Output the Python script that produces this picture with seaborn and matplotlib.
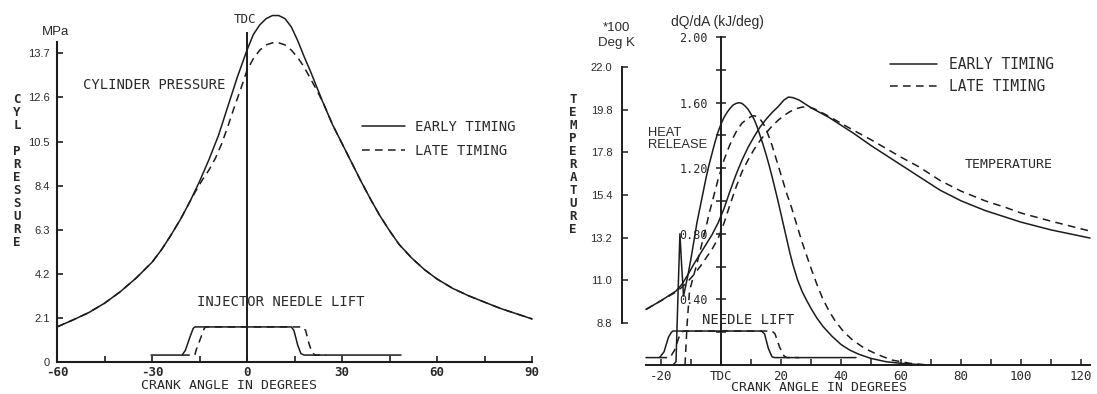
import numpy as np
import pandas as pd
import matplotlib
matplotlib.use("Agg")
import matplotlib.pyplot as plt
import seaborn as sns

# ---------------- left panel: cylinder pressure, MPa ----------------
p_early_ca = [-60, -55, -50, -45, -40, -35, -30, -27, -24, -21, -18, -15, -12, -9, -6, -3, 0,
              2, 4, 6, 8, 10, 12, 14, 16, 18, 20, 22, 24, 27, 30, 33, 36, 39, 42, 45, 48,
              52, 56, 60, 65, 70, 75, 80, 85, 90]
p_early = [1.67, 2.0, 2.35, 2.8, 3.35, 4.0, 4.75, 5.35, 6.05, 6.8, 7.65, 8.6, 9.65, 10.8, 12.2, 13.6, 14.86,
           15.6, 16.05, 16.35, 16.5, 16.5, 16.35, 15.95, 15.3, 14.55, 13.85, 13.1, 12.35, 11.3, 10.4, 9.5,
           8.6, 7.75, 6.95, 6.25, 5.6, 4.95, 4.4, 3.95, 3.5, 3.15, 2.85, 2.55, 2.3, 2.05]
p_late_ca = [-60, -55, -50, -45, -40, -35, -30, -27, -24, -21, -18, -16, -14, -12, -10, -8, -6, -4,
             -2, 0, 2, 4, 6, 8, 10, 12, 14, 16, 18, 20, 22, 24, 27, 30, 33, 36, 39, 42, 45, 48,
             52, 56, 60, 65, 70, 75, 80, 85, 90]
p_late = [1.67, 2.0, 2.35, 2.8, 3.35, 4.0, 4.75, 5.35, 6.05, 6.8, 7.65, 8.2, 8.7, 9.15, 9.7, 10.4,
          11.25, 12.15, 13.0, 13.9, 14.45, 14.85, 15.1, 15.2, 15.2, 15.1, 14.85, 14.5, 14.05, 13.5,
          12.95, 12.35, 11.3, 10.4, 9.5, 8.6, 7.75, 6.95, 6.25, 5.6, 4.95, 4.4, 3.95, 3.5, 3.15,
          2.85, 2.55, 2.3, 2.05]

# injector needle lift (drawn on pressure scale)
lift_early_ca = [-30.3, -20.5, -19.5, -18, -17, -16.5, 14, 14.8, 16, 17, 18, 48.6]
lift_early = [0.33, 0.33, 0.55, 1.2, 1.6, 1.67, 1.67, 1.5, 0.8, 0.4, 0.33, 0.33]
lift_late_ca = [-20.5, -16.5, -16, -14.5, -13.5, -13, 17.5, 18.5, 19.5, 20.5, 21.5, 25]
lift_late = [0.33, 0.33, 0.6, 1.2, 1.6, 1.67, 1.67, 1.5, 0.9, 0.45, 0.33, 0.33]

p_xticks = [-60, -30, 0, 30, 60, 90]
p_xminor = [-45, -15, 15, 45, 75]
p_yticks = [0, 2.1, 4.2, 6.3, 8.4, 10.5, 12.6, 14.7]
p_ylabels = ['0', '2.1', '4.2', '6.3', '8.4', '10.5', '12.6', '13.7']

# ---------------- right panel: heat release (kJ/deg) + temperature (*100 K) ----------------
hr_early_ca = [-16, -15, -14.3, -13.7, -13.1, -12.5, -11, -10, -9, -8, -7, -6, -5, -4, -3, -2, -1,
               0, 1, 2, 3, 4, 5, 6, 7, 8, 9, 10, 11, 12, 13, 14, 15, 16, 17, 18, 19, 20, 21, 22,
               23, 24, 25.5, 27, 28.5, 30, 32, 34, 37, 40, 43, 46, 50, 55, 60, 68]
hr_early = [0, 0.02, 0.45, 0.80, 0.6, 0.42, 0.55, 0.65, 0.76, 0.87, 0.96, 1.05, 1.14, 1.22, 1.29,
            1.36, 1.42, 1.47, 1.51, 1.54, 1.565, 1.585, 1.595, 1.60, 1.595, 1.58, 1.56, 1.53, 1.50,
            1.455, 1.40, 1.345, 1.285, 1.22, 1.15, 1.075, 1.0, 0.92, 0.84, 0.76, 0.68, 0.61, 0.52,
            0.45, 0.395, 0.345, 0.285, 0.235, 0.175, 0.125, 0.09, 0.065, 0.04, 0.02, 0.01, 0]
hr_late_ca = [-12, -11.3, -10.5, -9.5, -8, -6.5, -5, -4, -3, -2, -1, 0, 1, 2, 3, 4, 5, 6, 7, 8, 9,
              10, 11, 12, 13, 14, 15, 16, 17, 18, 19, 20, 21, 22, 23, 24, 25.5, 27, 28.5, 30, 32,
              34, 36, 38, 41, 44, 48, 52, 57, 63, 69]
hr_late = [0, 0.25, 0.45, 0.52, 0.62, 0.73, 0.84, 0.92, 0.99, 1.06, 1.13, 1.19, 1.25, 1.30, 1.345,
           1.385, 1.42, 1.45, 1.475, 1.49, 1.505, 1.515, 1.52, 1.515, 1.50, 1.475, 1.44, 1.39, 1.34,
           1.28, 1.22, 1.16, 1.10, 1.04, 0.99, 0.93, 0.84, 0.75, 0.67, 0.59, 0.49, 0.40, 0.33, 0.27,
           0.2, 0.15, 0.1, 0.065, 0.03, 0.01, 0]

t_early_ca = [-25, -20, -15, -13, -11, -9, -7, -5, -3, -1, 1, 3, 5, 7, 9, 11, 13, 15, 17, 19, 21,
              22.5, 24, 26, 28, 30, 33, 36, 40, 44, 50, 55, 60, 66, 73, 80, 88, 95, 100, 110, 123]
t_early = [9.5, 9.95, 10.45, 10.8, 11.3, 11.85, 12.35, 12.85, 13.35, 13.95, 14.7, 15.6, 16.45, 17.2,
           17.85, 18.4, 18.9, 19.3, 19.65, 19.95, 20.3, 20.45, 20.42, 20.3, 20.1, 19.9, 19.65, 19.4,
           19.0, 18.6, 17.95, 17.45, 16.95, 16.35, 15.65, 15.1, 14.6, 14.25, 14.0, 13.6, 13.18]
t_late_ca = [-25, -20, -15, -13, -11, -9, -7, -5, -3, -1, 1, 3, 5, 7, 9, 11, 13, 15, 17, 19, 21,
             23, 25, 27, 29, 31, 33, 36, 40, 44, 50, 55, 60, 66, 73, 80, 88, 95, 100, 110, 123]
t_late = [9.5, 9.95, 10.4, 10.65, 10.95, 11.3, 11.7, 12.15, 12.6, 13.15, 13.95, 14.9, 15.8, 16.6,
          17.2, 17.75, 18.2, 18.6, 18.95, 19.25, 19.5, 19.7, 19.85, 19.93, 19.95, 19.85, 19.7,
          19.45, 19.1, 18.75, 18.25, 17.8, 17.35, 16.85, 16.15, 15.6, 15.1, 14.75, 14.47, 14.05, 13.54]

# needle lift (drawn on heat release scale)
nl_early_ca = [-25, -20.5, -19, -17.5, -16.5, -16, 13.5, 14.5, 15.8, 17, 17.8, 45]
nl_early = [0.045, 0.045, 0.08, 0.17, 0.2, 0.207, 0.207, 0.19, 0.1, 0.05, 0.045, 0.045]
nl_late_ca = [-20.5, -17, -15.5, -14, -13, -12.5, 17, 18, 19.5, 21, 22, 26]
nl_late = [0.045, 0.045, 0.09, 0.17, 0.2, 0.207, 0.207, 0.19, 0.11, 0.055, 0.045, 0.045]

r_xticks = [-20, 0, 20, 40, 60, 80, 100, 120]
r_xlabels = ['-20', 'TDC', '20', '40', '60', '80', '100', '120']
r_xminor = [-10, 10, 30, 50, 70, 90, 110]
hr_yticks = [0.2, 0.4, 0.6, 0.8, 1.0, 1.2, 1.4, 1.6, 1.8, 2.0]
hr_ylabels = ['', '0.40', '', '0.80', '', '1.20', '', '1.60', '', '2.00']
t_yticks = [8.8, 11.0, 13.2, 15.4, 17.6, 19.8, 22.0]
t_ylabels = ['8.8', '11.0', '13.2', '15.4', '17.8', '19.8', '22.0']

sns.set_theme(style="white")
plt.rcParams['font.family'] = ['DejaVu Sans Mono']

INK = '#1c1c1c'
TXT = '#2a2a2a'
DASH = (0, (5, 3.5))
SANS = 'Liberation Sans'

fig = plt.figure(figsize=(10.97, 3.94), dpi=100)
ax1 = fig.add_axes([0, 0, 560 / 1097, 1])
ax2 = fig.add_axes([560 / 1097, 0, 537 / 1097, 1])
ax2t = ax2.twinx()
for ax in (ax1, ax2, ax2t):
    ax.set_facecolor('none')


def curve(ax, x, y, dashed=False, label=None):
    sns.lineplot(x=x, y=y, ax=ax, color=INK, lw=1.1, linestyle=DASH if dashed else '-',
                 estimator=None, sort=False, label=label, legend=False)


# ---- left
curve(ax1, p_early_ca, p_early, label='EARLY TIMING')
curve(ax1, p_late_ca, p_late, dashed=True, label='LATE TIMING')
curve(ax1, lift_early_ca, lift_early)
curve(ax1, lift_late_ca, lift_late, dashed=True)
ax1.vlines(0, 0, 15.7, color=INK, lw=1.4)

ax1.set_xlim(-78.0, 98.8)
ax1.set_ylim(-1.524, 17.24)
ax1.spines[['top', 'right']].set_visible(False)
ax1.spines['left'].set_position(('data', -60))
ax1.spines['left'].set_bounds(0, 15.24)
ax1.spines['bottom'].set_position(('data', 0))
ax1.spines['bottom'].set_bounds(-60, 90)
for s in ('left', 'bottom'):
    ax1.spines[s].set_linewidth(1.5)
    ax1.spines[s].set_color(INK)
ax1.set_xticks(p_xticks, labels=[str(v) for v in p_xticks])
ax1.set_xticks(p_xminor, minor=True)
ax1.set_yticks(p_yticks, labels=p_ylabels)
ax1.tick_params(axis='x', which='both', direction='in', length=4, width=1.2, color=INK,
                bottom=True, pad=3, labelsize=9, labelcolor=TXT)
ax1.tick_params(axis='y', direction='in', length=4, width=1.2, color=INK, left=True,
                pad=5, labelsize=8, labelcolor=TXT)
for lbl in ax1.get_xticklabels():
    lbl.set_fontweight('bold')
for lbl in ax1.get_yticklabels():
    lbl.set_fontfamily(SANS)
ax1.set_xlabel('')
ax1.set_ylabel('')

ax1.text(-60.6, 15.7, 'MPa', ha='center', va='center', fontsize=9.5, family=SANS, color=TXT)
ax1.text(-0.6, 16.3, 'TDC', ha='center', va='center', fontsize=9, color=TXT)
ax1.text(-51.8, 13.19, 'CYLINDER PRESSURE', ha='left', va='center', fontsize=10, color=TXT)
ax1.text(-15.8, 2.86, 'INJECTOR NEEDLE LIFT', ha='left', va='center', fontsize=10, color=TXT)
ax1.text(-5.8, -1.14, 'CRANK ANGLE IN DEGREES', ha='center', va='center', fontsize=9.5, color=TXT)
ax1.text(-72.6, 9.1, 'C\nY\nL\n\nP\nR\nE\nS\nS\nU\nR\nE', ha='center', va='center',
         fontsize=9, fontweight='bold', linespacing=1.0, color=TXT)
ax1.legend(loc='upper left', bbox_to_anchor=(362 / 1097, 1 - 120 / 394),
           bbox_transform=fig.transFigure, frameon=False, fontsize=10, handlelength=3.1,
           handletextpad=0.72, labelspacing=0.72, borderpad=0, borderaxespad=0,
           labelcolor=TXT)

# ---- right
curve(ax2, hr_early_ca, hr_early, label='EARLY TIMING')
curve(ax2, hr_late_ca, hr_late, dashed=True, label='LATE TIMING')
curve(ax2, nl_early_ca, nl_early)
curve(ax2, nl_late_ca, nl_late, dashed=True)
curve(ax2t, t_early_ca, t_early)
curve(ax2t, t_late_ca, t_late, dashed=True)

ax2.set_xlim(-53.67, 125.33)
ax2.set_ylim(-0.177, 2.226)
ax2.spines[['top', 'right']].set_visible(False)
ax2.spines['left'].set_position(('data', 0))
ax2.spines['left'].set_bounds(0, 2.0)
ax2.spines['bottom'].set_position(('data', 0))
ax2.spines['bottom'].set_bounds(-25, 123)
for s in ('left', 'bottom'):
    ax2.spines[s].set_linewidth(1.4)
    ax2.spines[s].set_color(INK)
ax2.set_xticks(r_xticks, labels=r_xlabels)
ax2.set_xticks(r_xminor, minor=True)
ax2.set_yticks(hr_yticks, labels=hr_ylabels)
ax2.tick_params(axis='x', which='both', direction='in', length=4, width=1.1, color=INK,
                bottom=True, pad=3.5, labelsize=9, labelcolor=TXT)
ax2.tick_params(axis='y', direction='inout', length=7, width=1.1, color=INK, left=True,
                pad=6, labelsize=8.5, labelcolor=TXT)
ax2.set_xlabel('')
ax2.set_ylabel('')

ax2t.set_ylim(5.138, 25.455)
ax2t.spines[['top', 'right', 'bottom']].set_visible(False)
ax2t.spines['left'].set_visible(True)
ax2t.spines['left'].set_position(('data', -33))
ax2t.spines['left'].set_bounds(8.8, 22.0)
ax2t.spines['left'].set_linewidth(1.4)
ax2t.spines['left'].set_color(INK)
ax2t.yaxis.tick_left()
ax2t.yaxis.set_label_position('left')
ax2t.set_yticks(t_yticks, labels=t_ylabels)
ax2t.tick_params(axis='y', direction='in', length=4, width=1.1, color=INK, left=True,
                 right=False, pad=7, labelsize=8, labelcolor=TXT)
for lbl in ax2t.get_yticklabels():
    lbl.set_fontfamily(SANS)
ax2t.set_ylabel('')

ax2.text(-34.7, 2.055, '*100', ha='center', va='center', fontsize=9.5, family=SANS, color=TXT)
ax2.text(-34.7, 1.965, 'Deg K', ha='center', va='center', fontsize=9.5, family=SANS, color=TXT)
ax2.text(-1.3, 2.09, 'dQ/dA (kJ/deg)', ha='center', va='center', fontsize=10, family=SANS, color=TXT)
ax2.text(-24.3, 1.381, 'HEAT\nRELEASE', ha='left', va='center', fontsize=9.3, family=SANS,
         linespacing=1.0, color=TXT)
ax2.text(-49.3, 1.22, 'T\nE\nM\nP\nE\nR\nA\nT\nU\nR\nE', ha='center', va='center',
         fontsize=9, fontweight='bold', linespacing=1.0, color=TXT)
ax2.text(-6.3, 0.274, 'NEEDLE LIFT', ha='left', va='center', fontsize=10, color=TXT)
ax2.text(81.3, 1.225, 'TEMPERATURE', ha='left', va='center', fontsize=9.5, color=TXT)
ax2.text(32.5, -0.14, 'CRANK ANGLE IN DEGREES', ha='center', va='center', fontsize=9.5, color=TXT)
ax2.legend(loc='upper left', bbox_to_anchor=(890 / 1097, 1 - 57 / 394),
           bbox_transform=fig.transFigure, frameon=False, fontsize=10.5, handlelength=3.2,
           handletextpad=0.85, labelspacing=0.5, borderpad=0, borderaxespad=0,
           labelcolor=TXT)

fig.savefig('out.png', dpi=100)
